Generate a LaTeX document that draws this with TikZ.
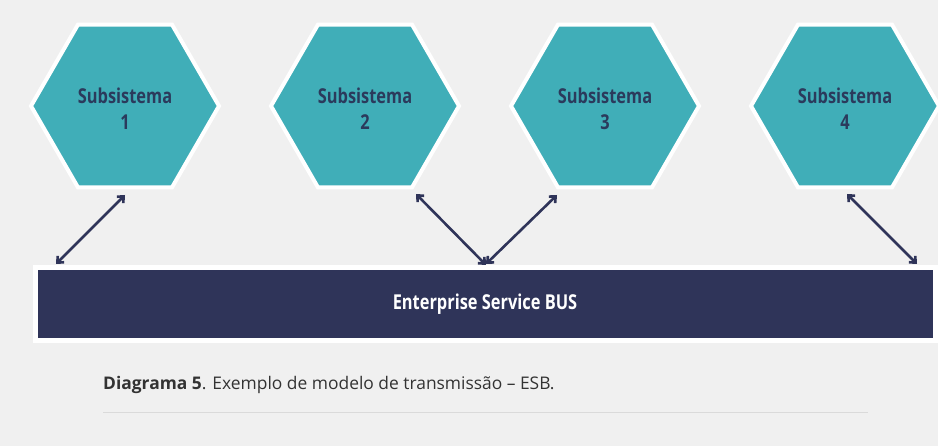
\documentclass[tikz,border=0pt]{standalone}
\usepackage{fontspec}
\setmainfont{Open Sans}
\newfontfamily\condbold[FakeStretch=0.8]{Open Sans Bold}
\usetikzlibrary{shapes.geometric,arrows.meta}
\definecolor{bgc}{HTML}{F0F0F0}
\definecolor{tealc}{HTML}{40AEB8}
\definecolor{navyc}{HTML}{2F3459}
\definecolor{hextext}{HTML}{2B3A5C}
\definecolor{captc}{HTML}{333333}
\definecolor{rulec}{HTML}{DADADA}
\tikzset{
  hexbox/.style={regular polygon, regular polygon sides=6, minimum size=188pt, inner sep=0pt,
    fill=tealc, draw=white, line width=4pt},
  hextxt/.style={inner sep=0pt, text=hextext, align=center,
    font=\condbold\fontsize{20.5}{26}\selectfont},
  busbox/.style={rectangle, minimum width=900pt, minimum height=73pt, inner sep=0pt,
    fill=navyc, draw=white, line width=5pt, text=white,
    font=\condbold\fontsize{20.5}{25}\selectfont},
  link/.style={draw=navyc, line width=2.6pt, {Straight Barb[length=5pt,width=9pt]}-{Straight Barb[length=5pt,width=9pt]}}
}
\begin{document}
\begin{tikzpicture}[x=1pt,y=-1pt]
\fill[bgc] (0,0) rectangle (938,446);
\useasboundingbox (0,0) rectangle (938,446);
\node[hexbox] (h1) at (125,106) {};
\node[hexbox] (h2) at (365,106) {};
\node[hexbox] (h3) at (605,106) {};
\node[hexbox] (h4) at (845,106) {};
\node[hextxt] (t1) at (125,109) {Subsistema\\1};
\node[hextxt] (t2) at (365,109) {Subsistema\\2};
\node[hextxt] (t3) at (605,109) {Subsistema\\3};
\node[hextxt] (t4) at (845,109) {Subsistema\\4};
\node[busbox] (bus) at (485,304) {Enterprise Service BUS};
\coordinate (a1b) at (56,264);
\coordinate (a1t) at (125,195);
\coordinate (a2t) at (416,194);
\coordinate (a2b) at (486,265);
\coordinate (a3b) at (486,264);
\coordinate (a3t) at (557,195);
\coordinate (a4t) at (847,194);
\coordinate (a4b) at (917,264);
\draw[link] (a1b) -- (a1t);
\draw[link] (a2t) -- (a2b);
\draw[link] (a3b) -- (a3t);
\draw[link] (a4t) -- (a4b);
\node[anchor=base west, inner sep=0pt, text=captc, font=\fontsize{17.4}{20}\selectfont] (cap) at (103,390)
  {\textbf{Diagrama 5}. Exemplo de modelo de transmissão – ESB.};
\coordinate (r1) at (103,413);
\coordinate (r2) at (868,413);
\draw[rulec, line width=1pt] (r1) -- (r2);
\end{tikzpicture}
\end{document}
